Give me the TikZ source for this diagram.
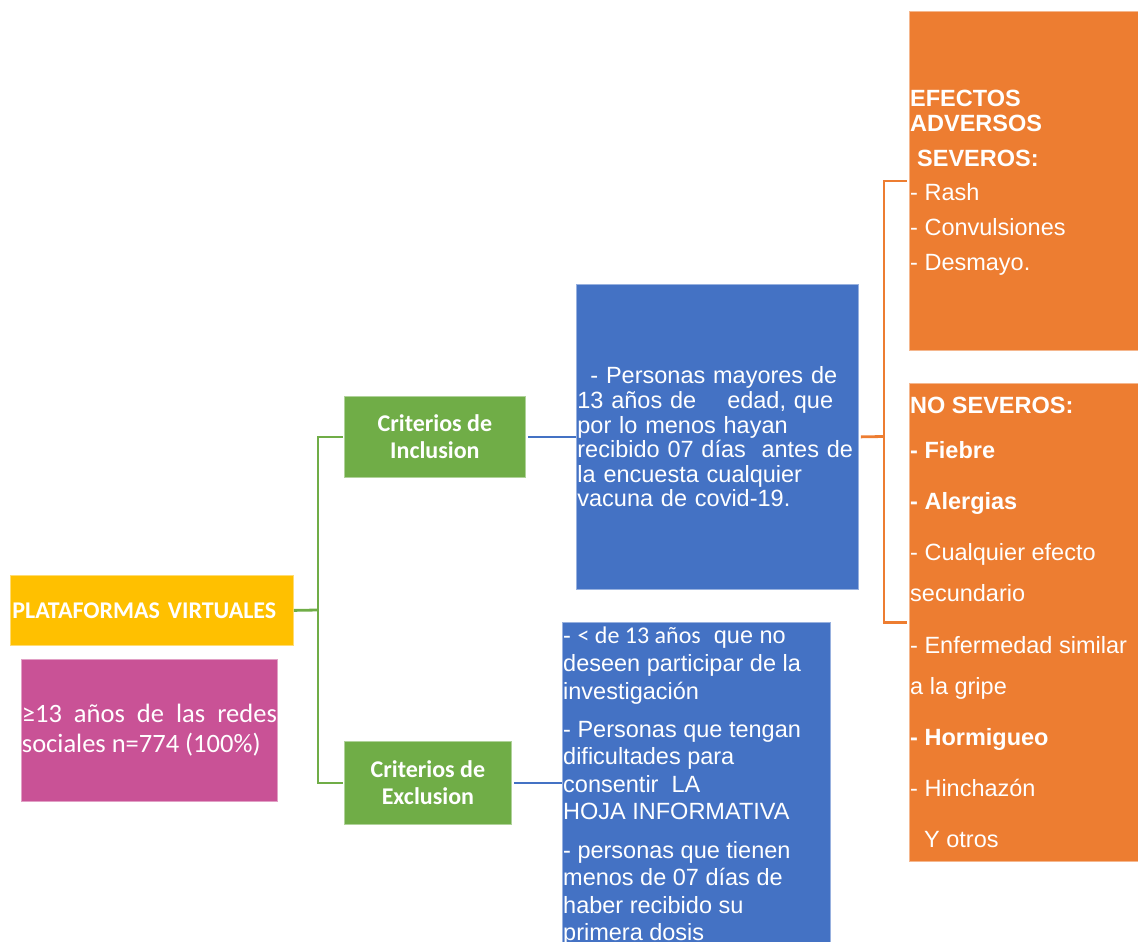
\documentclass[tikz,border=0pt]{standalone}
\usepackage{fontspec}
\setmainfont{Liberation Sans}
\newfontfamily\calfont{Carlito}
\hyphenpenalty=10000
\exhyphenpenalty=10000
\definecolor{cyellow}{HTML}{FFC000}
\definecolor{cpink}{HTML}{C95296}
\definecolor{cgreen}{HTML}{70AD47}
\definecolor{cblue}{HTML}{4472C4}
\definecolor{corange}{HTML}{ED7D31}
\begin{document}
\begin{tikzpicture}[x=1pt,y=-1pt,
  box/.style={anchor=north west, inner sep=0pt, text=white, draw=#1!55!white, fill=#1, line width=0.8pt},
  txt/.style={anchor=north west, inner sep=0pt, text=white, align=left},
  gline/.style={draw=cgreen, line width=2.8pt},
  bline/.style={draw=cblue, line width=2.4pt},
  oline/.style={draw=corange, line width=2.8pt}]
\useasboundingbox (0,0) rectangle (1138,942);
% left column
\node[box=cyellow, minimum width=283pt, minimum height=70pt, text width=279pt, align=left,
      font=\calfont\bfseries\fontsize{24}{28}\selectfont] (plat) at (10,575) {PLATAFORMAS VIRTUALES};
\node[box=cpink, minimum width=256pt, minimum height=142pt, text width=255pt, align=justify,
      font=\calfont\fontsize{26.5}{30}\selectfont] (pink) at (21,659) {≥13 años de las redes sociales n=774 (100\%)};
% criteria
\node[box=cgreen, minimum width=181pt, minimum height=81pt, align=center,
      font=\calfont\bfseries\fontsize{24}{27}\selectfont] (inc) at (344,396) {Criterios de\\Inclusion};
\node[box=cgreen, minimum width=167pt, minimum height=83pt, align=center,
      font=\calfont\bfseries\fontsize{24}{27}\selectfont] (exc) at (344,741) {Criterios de\\Exclusion};
% blue boxes
\node[box=cblue, minimum width=282pt, minimum height=305pt, text width=280pt, align=left,
      font=\fontsize{23.5}{24.6}\selectfont] (b1) at (576,284)
  {\hspace*{13pt}- Personas mayores de\\13 años de\hspace*{31pt}edad, que\\por lo menos hayan\\recibido 07 días\ \ antes de\\la encuesta cualquier\\vacuna de covid-19.};
\node[box=cblue, minimum width=268pt, minimum height=330pt] (b2) at (562,622) {};
\node[txt, font=\fontsize{23.5}{27.6}\selectfont] (b2t) at (563,627)
  {- {\calfont\fontsize{24}{27.5}\selectfont < de 13 años}\ \ que no\\deseen participar de la\\investigación\\[10.5pt]- Personas que tengan\\dificultades para\\consentir\ \ LA\\HOJA INFORMATIVA\\[10.5pt]- personas que tienen\\menos de 07 días de\\haber recibido su\\primera dosis};
% orange boxes
\node[box=corange, minimum width=229pt, minimum height=339pt] (o1) at (909,11) {};
\node[txt, font=\fontsize{23.5}{25}\selectfont] (o1t) at (910,90)
  {{\bfseries EFECTOS}\\{\bfseries ADVERSOS}\\[9.5pt]{\bfseries\hspace*{7pt}SEVEROS:}\\[9.8pt]- Rash\\[9.5pt]- Convulsiones\\[9.8pt]- Desmayo.};
\node[box=corange, minimum width=229pt, minimum height=478pt] (o2) at (909,383) {};
\node[txt, font=\fontsize{23.5}{41}\selectfont] (o2t) at (910,397)
  {{\bfseries NO SEVEROS:}\\[4pt]{\bfseries - Fiebre}\\[10pt]{\bfseries - Alergias}\\[10pt]- Cualquier efecto\\secundario\\[10.5pt]- Enfermedad similar\\a la gripe\\[10pt]{\bfseries - Hormigueo}\\[10pt]- Hinchazón\\[10pt]\hspace*{14pt}Y otros};
% connectors
\coordinate (gj) at (318,610);
\draw[gline] (plat.east) -- (gj);
\draw[gline, shorten <=1pt] (inc.west) -| (gj) |- ([xshift=-1pt]exc.west);
\draw[bline, shorten <=2pt] (inc.east) -- (b1.west);
\draw[bline, shorten <=2pt] (exc.east) -- (b2.west |- exc.east);
\coordinate (oj) at (884,436.5);
\draw[oline, shorten <=2pt] (b1.east) -- (oj);
\draw[oline, shorten <=2pt, shorten >=2pt] (o1.west) -| (oj) |- (o2.west);
\end{tikzpicture}
\end{document}
